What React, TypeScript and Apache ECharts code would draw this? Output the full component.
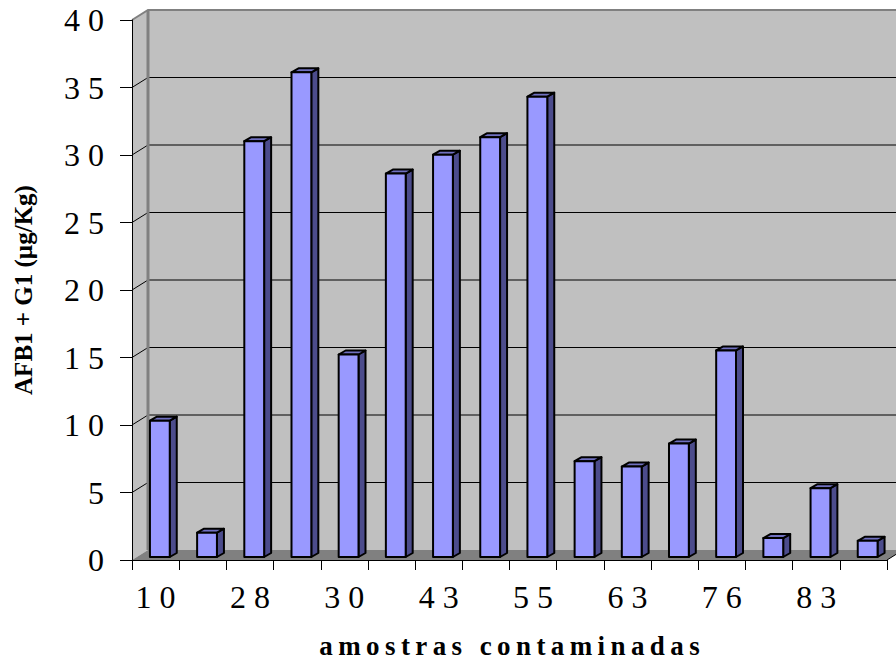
import React, { useEffect, useRef } from "react";
import * as echarts from "echarts";

const CATEGORIES = ["10", "", "28", "", "30", "", "43", "", "55", "", "63", "", "76", "", "83", ""];
const VALUES = [10.1, 1.8, 30.8, 35.9, 15.0, 28.4, 29.8, 31.1, 34.1, 7.1, 6.7, 8.4, 15.3, 1.4, 5.1, 1.2];
const Y_TICKS = [0, 5, 10, 15, 20, 25, 30, 35, 40];
const X_TITLE = "amostras contaminadas";
const Y_TITLE = "AFB1 + G1 (µg/Kg)";

const FONT = "'Liberation Serif', 'Times New Roman', serif";
const DX = 16;
const DY = -10;

const spaced = (s: string, sep = " ") => s.split("").join(sep);

export default function App() {
  const ref = useRef<HTMLDivElement>(null);
  useEffect(() => {
    if (!ref.current) return;
    const chart = echarts.init(ref.current, null, { renderer: "svg" });
    const N = CATEGORIES.length;
    const yMax = Y_TICKS[Y_TICKS.length - 1];

    const renderFrame = (_params: any, api: any) => {
      const bw = api.size([1, 0])[0];
      const c0 = api.coord([0, 0]);
      const cN = api.coord([N - 1, 0]);
      const left = c0[0] - bw / 2;
      const right = cN[0] + bw / 2;
      const bottomY = c0[1];
      const topY = api.coord([0, yMax])[1];
      const children: any[] = [];
      children.push({
        type: "rect",
        shape: { x: left + DX, y: topY + DY, width: right - left + 40, height: bottomY - topY },
        style: { fill: "#c0c0c0" },
      });
      children.push({
        type: "polygon",
        shape: { points: [[left, bottomY], [left, topY], [left + DX, topY + DY], [left + DX, bottomY + DY]] },
        style: { fill: "#c0c0c0" },
      });
      children.push({
        type: "polygon",
        shape: { points: [[left, bottomY], [right, bottomY], [right + DX, bottomY + DY], [left + DX, bottomY + DY]] },
        style: { fill: "#808080" },
      });
      Y_TICKS.forEach((t) => {
        if (t === 0 || t === yMax) return;
        const y = api.coord([0, t])[1];
        children.push({
          type: "polyline",
          shape: { points: [[left, y], [left + DX, y + DY], [right + DX + 40, y + DY]] },
          style: { stroke: "#000", lineWidth: 1, fill: null },
        });
      });
      children.push({
        type: "polyline",
        shape: { points: [[left, topY], [left + DX, topY + DY], [right + DX + 40, topY + DY]] },
        style: { stroke: "#808080", lineWidth: 2, fill: null },
      });
      children.push({
        type: "line",
        shape: { x1: left + DX, y1: topY + DY, x2: left + DX, y2: bottomY + DY },
        style: { stroke: "#808080", lineWidth: 3 },
      });
      children.push({
        type: "line",
        shape: { x1: right, y1: bottomY, x2: right + DX, y2: bottomY + DY },
        style: { stroke: "#000", lineWidth: 1 },
      });
      return { type: "group", children };
    };

    const renderBar = (_params: any, api: any) => {
      const i = api.value(0);
      const v = api.value(1);
      const base = api.coord([i, 0]);
      const top = api.coord([i, v]);
      const bw = api.size([1, 0])[0];
      const fw = bw * 0.42;
      const off = 3;
      const fl = base[0] - bw * 0.12;
      const fr = fl + fw;
      const fb = base[1] - off;
      const ft = top[1] - off;
      const sx = 7;
      const sy = -4;
      const stroke = { stroke: "#000", lineWidth: 2, lineJoin: "round" };
      return {
        type: "group",
        children: [
          {
            type: "polygon",
            shape: { points: [[fr, ft], [fr + sx, ft + sy], [fr + sx, fb + sy], [fr, fb]] },
            style: { fill: "#4c4c8c", ...stroke },
          },
          {
            type: "polygon",
            shape: { points: [[fl, ft], [fr, ft], [fr + sx, ft + sy], [fl + sx, ft + sy]] },
            style: { fill: "#7070c0", ...stroke },
          },
          {
            type: "rect",
            shape: { x: fl, y: ft, width: fw, height: fb - ft },
            style: { fill: "#9999ff", ...stroke },
          },
        ],
      };
    };

    chart.setOption({
      animation: false,
      grid: {
        left: 132,
        top: 20,
        width: 755,
        height: 540,
        containLabel: false,
        outerBoundsMode: "none",
      },
      xAxis: {
        type: "category",
        data: CATEGORIES,
        z: 5,
        boundaryGap: true,
        name: X_TITLE.split(" ").map((w) => spaced(w, "\u2009")).join(" \u2009\u2009"),
        nameLocation: "middle",
        nameGap: 72,
        nameTextStyle: { fontFamily: FONT, fontWeight: "bold", fontSize: 27, color: "#000" },
        axisLine: { show: true, lineStyle: { color: "#000", width: 1 } },
        axisTick: { show: true, interval: 0, length: 10, lineStyle: { color: "#000" } },
        axisLabel: {
          interval: 1,
          margin: 21,
          fontFamily: FONT,
          fontSize: 32,
          color: "#000",
          formatter: (s: string) => spaced(s),
        },
        splitLine: { show: false },
      },
      yAxis: {
        type: "value",
        min: 0,
        max: yMax,
        interval: 5,
        z: 5,
        name: Y_TITLE,
        nameLocation: "middle",
        nameRotate: 90,
        nameGap: 96,
        nameTextStyle: { fontFamily: FONT, fontWeight: "bold", fontSize: 25, color: "#000" },
        axisLine: { show: true, lineStyle: { color: "#000", width: 1 } },
        axisTick: { show: true, length: 12, lineStyle: { color: "#000" } },
        axisLabel: {
          margin: 28,
          fontFamily: FONT,
          fontSize: 32,
          color: "#000",
          formatter: (v: number) => spaced(String(v)),
        },
        splitLine: { show: false },
      },
      series: [
        {
          type: "custom",
          z: 0,
          silent: true,
          clip: false,
          renderItem: renderFrame,
          data: [[0, 0]],
          encode: { x: 0, y: 1 },
        },
        {
          type: "custom",
          z: 2,
          clip: false,
          renderItem: renderBar,
          data: VALUES.map((v, i) => [i, v]),
          encode: { x: 0, y: 1 },
        },
      ],
    });
    return () => chart.dispose();
  }, []);
  return (
    <div
      ref={ref}
      style={{ position: "fixed", left: 0, top: 0, width: 896, height: 659, background: "#fff" }}
    />
  );
}
